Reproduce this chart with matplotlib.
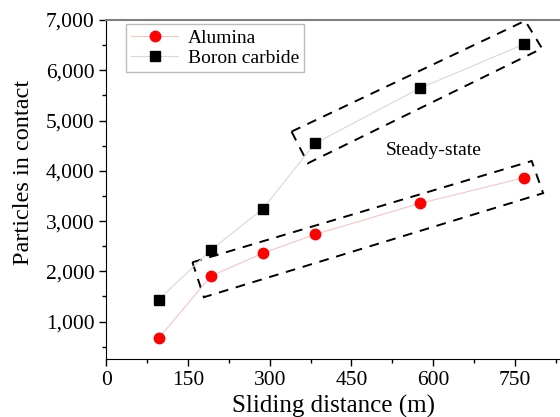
import matplotlib.pyplot as plt
from matplotlib.patches import Polygon
from matplotlib.ticker import MultipleLocator, FuncFormatter

# sliding distance (m) and particles in contact
distance = [96, 192, 287, 383, 575, 766]
alumina = [670, 1905, 2360, 2735, 3350, 3860]
boron_carbide = [1435, 2425, 3240, 4545, 5640, 6515]

# dashed outlines around the steady-state points (data units)
box_boron = [(340, 4780), (769, 6985), (800, 6435), (370, 4150)]
box_alumina = [(158, 2180), (781, 4195), (802, 3555), (179, 1485)]

plt.rcParams['font.family'] = ['Liberation Serif', 'DejaVu Serif']

fig = plt.figure(figsize=(5.6, 4.17), dpi=100)
ax = fig.add_axes([0.19, 0.139, 0.81, 0.813])

ax.plot(distance, alumina, color='#f8c4c4', lw=0.8, marker='o', ms=7.5,
        mfc='red', mec='red', label='Alumina')
ax.plot(distance, boron_carbide, color='#d8d8d8', lw=0.8, marker='s', ms=6.5,
        mfc='black', mec='black', label='Boron carbide')

# steady-state regions
for corners in (box_boron, box_alumina):
    ax.add_patch(Polygon(corners, closed=True, fill=False, ec='black',
                         lw=1.4, ls=(0, (5, 4)), clip_on=False))

ax.text(513, 4400, 'Steady-state', fontsize=14, va='center')

ax.set_xlim(0, 833)
ax.set_ylim(255, 7000)
ax.xaxis.set_major_locator(MultipleLocator(150))
ax.xaxis.set_minor_locator(MultipleLocator(75))
ax.yaxis.set_major_locator(MultipleLocator(1000))
ax.yaxis.set_minor_locator(MultipleLocator(500))
ax.yaxis.set_major_formatter(FuncFormatter(lambda v, p: f'{int(v):,}'))

ax.spines['right'].set_visible(False)
ax.spines['top'].set_color('#7f7f7f')
ax.spines['top'].set_linewidth(1.5)
ax.tick_params(which='major', length=5, width=1, labelsize=15.5)
ax.tick_params(which='minor', length=3, width=1)
ax.tick_params(top=False, which='both')

ax.set_xlabel('Sliding distance (m)', fontsize=18, labelpad=4)
ax.set_ylabel('Particles in contact', fontsize=17.5)
ax.yaxis.set_label_coords(-0.16, 0.55)

ax.legend(loc='upper left', bbox_to_anchor=(0.044, 0.988), fontsize=14,
          frameon=True, fancybox=False, edgecolor='#bbbbbb', framealpha=1,
          handlelength=2.4, handletextpad=0.5, borderpad=0.25,
          labelspacing=0.15, borderaxespad=0)

fig.savefig('out.png', dpi=100)
